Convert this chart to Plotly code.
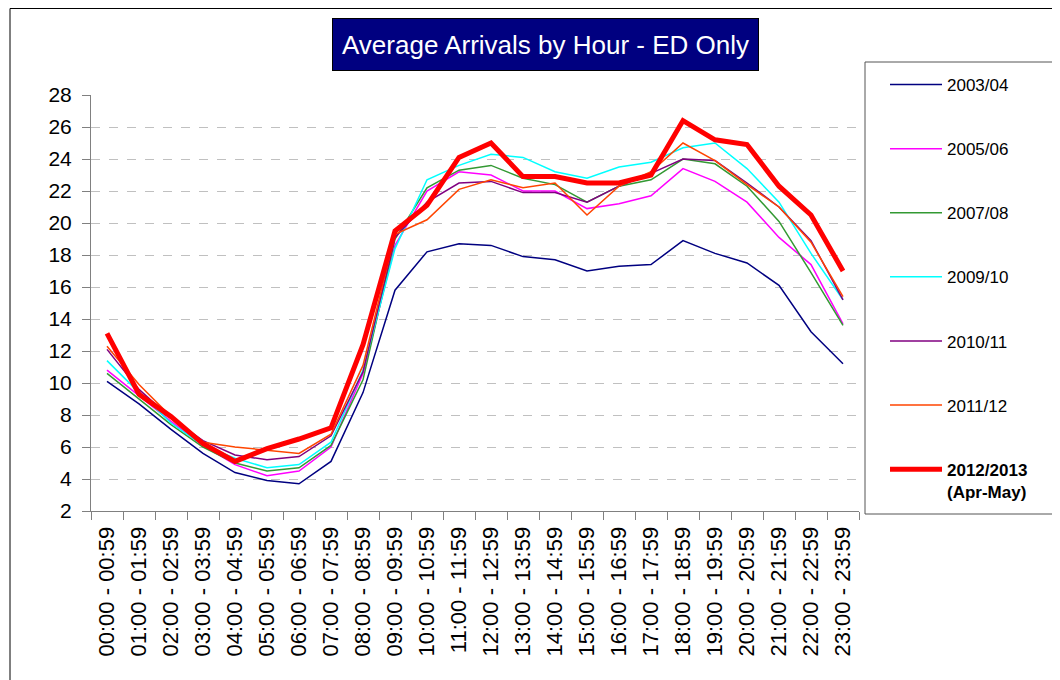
import plotly.graph_objects as go

# hour bands on the x axis
hours = [f"{h:02d}:00 - {h:02d}:59" for h in range(24)]

# average arrivals per hour
y2003_04 = [10.1, 8.7, 7.1, 5.6, 4.4, 3.9, 3.7, 5.1, 9.4, 15.8, 18.2, 18.7,
            18.6, 17.9, 17.7, 17.0, 17.3, 17.4, 18.9, 18.1, 17.5, 16.1, 13.2, 11.2]
y2005_06 = [10.8, 9.2, 7.6, 6.1, 4.9, 4.2, 4.5, 6.0, 10.6, 18.6, 22.0, 23.2,
            23.0, 22.0, 22.0, 20.9, 21.2, 21.7, 23.4, 22.6, 21.3, 19.1, 17.4, 13.7]
y2007_08 = [10.6, 9.0, 7.4, 6.0, 5.0, 4.5, 4.7, 6.1, 10.2, 19.0, 22.2, 23.3,
            23.6, 22.8, 22.4, 21.3, 22.3, 22.7, 24.0, 23.7, 22.3, 20.1, 16.9, 13.6]
y2009_10 = [11.4, 9.4, 7.5, 6.1, 5.3, 4.7, 4.9, 6.3, 10.8, 18.4, 22.7, 23.6,
            24.3, 24.1, 23.2, 22.8, 23.5, 23.8, 24.7, 25.0, 23.4, 21.3, 18.1, 15.2]
y2010_11 = [12.1, 9.6, 7.8, 6.4, 5.5, 5.2, 5.4, 6.7, 10.7, 19.1, 21.3, 22.5,
            22.6, 21.9, 21.9, 21.3, 22.3, 23.1, 24.0, 23.9, 22.5, 21.0, 18.9, 15.2]
y2011_12 = [12.3, 9.9, 7.9, 6.3, 6.0, 5.8, 5.6, 6.8, 11.1, 19.3, 20.2, 22.1,
            22.7, 22.2, 22.5, 20.5, 22.3, 23.2, 25.0, 23.9, 22.4, 21.0, 18.8, 15.4]
y2012_13 = [13.1, 9.3, 7.9, 6.2, 5.1, 5.9, 6.5, 7.2, 12.4, 19.5, 21.1, 24.1,
            25.0, 22.9, 22.9, 22.5, 22.5, 23.0, 26.4, 25.2, 24.9, 22.3, 20.5, 17.0]

series = [
    ("2003/04", y2003_04, "#000080", 1.5),
    ("2005/06", y2005_06, "#FF00FF", 1.5),
    ("2007/08", y2007_08, "#339933", 1.5),
    ("2009/10", y2009_10, "#00FFFF", 1.5),
    ("2010/11", y2010_11, "#800080", 1.5),
    ("2011/12", y2011_12, "#FF4500", 1.5),
    ("<b>2012/2013<br>(Apr-May)</b>", y2012_13, "#FF0000", 5),
]

FONT = "Liberation Sans, Arial, sans-serif"

# the page body has an 8px margin, so the figure is shrunk by that much
OFF = 8
W, H = 1060 - OFF, 680 - OFF
# plot area in screen pixels
L, R, T, B = 91, 859, 95, 511


def px_x(x):
    return (x - L) / (R - L)


def px_y(y):
    return (B - y) / (B - T)


fig = go.Figure()
for i, (name, vals, color, width) in enumerate(series):
    fig.add_trace(go.Scatter(
        x=hours, y=vals, mode="lines", name=name,
        legendgroup=f"g{i}",
        line=dict(color=color, width=width),
    ))

# title box
fig.add_annotation(
    text="Average Arrivals by Hour - ED Only",
    xref="paper", yref="paper", x=px_x(545.5), y=px_y(44),
    xanchor="center", yanchor="middle", showarrow=False,
    font=dict(family=FONT, size=26, color="white"),
    bgcolor="#000080", bordercolor="#000000", borderwidth=1,
    width=423, height=49,
)

# outer frame and legend frame
fig.add_shape(type="rect", xref="paper", yref="paper",
              x0=px_x(10), x1=px_x(1075), y0=px_y(8.5), y1=px_y(695),
              line=dict(color="#000000", width=1))
fig.add_shape(type="rect", xref="paper", yref="paper",
              x0=px_x(865), x1=px_x(1058), y0=px_y(62), y1=px_y(514),
              line=dict(color="#555555", width=1))

fig.update_layout(
    width=W, height=H,
    margin=dict(l=L - OFF, r=W - (R - OFF), t=T - OFF, b=H - (B - OFF),
                autoexpand=False),
    paper_bgcolor="white", plot_bgcolor="white",
    font=dict(family=FONT, color="black"),
    showlegend=True,
    legend=dict(
        x=px_x(885), y=px_y(67), xanchor="left", yanchor="top",
        font=dict(family=FONT, size=17, color="black"),
        bgcolor="rgba(0,0,0,0)", borderwidth=0,
        tracegroupgap=39, itemwidth=52, valign="top", maxheight=640,
    ),
)

fig.update_xaxes(
    type="category", range=[-0.5, 23.5],
    tickangle=-90, tickfont=dict(size=22), ticklabelstandoff=6,
    showline=True, linecolor="#808080", linewidth=1,
    ticks="outside", tickson="boundaries", ticklen=8, tickcolor="#808080",
    showgrid=False,
)
fig.update_yaxes(
    range=[2, 28], dtick=2, tickfont=dict(size=21),
    showline=True, linecolor="#808080", linewidth=1,
    ticks="outside", ticklen=8, tickcolor="#808080", ticklabelstandoff=6,
    showgrid=True, gridcolor="#c0c0c0", griddash="dash", gridwidth=1,
    zeroline=False,
)

fig.write_html("out.html")
